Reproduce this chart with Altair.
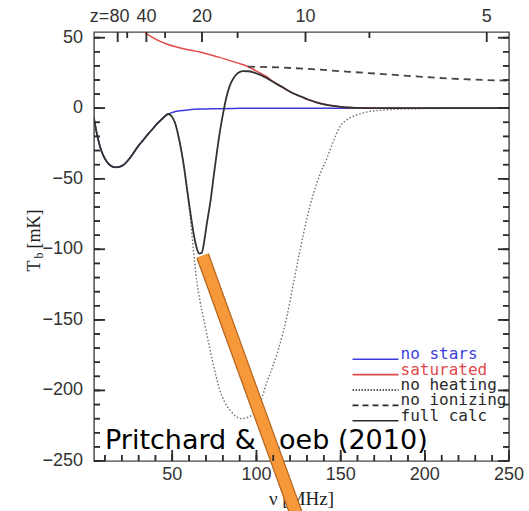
import altair as alt
import pandas as pd

# ---------------- values (nu in MHz, Tb in mK) ----------------
full_nu = [3.5, 5, 7.1, 9, 11.1, 13.5, 16, 18.5, 20.9, 24, 26.8, 30, 32.8, 36, 38.7, 41, 43.7, 46, 47.6,
           49.5, 51.5, 53.5, 55.5, 57, 58.5, 60, 61.5, 63, 64.5, 66, 67.5, 69, 70.5, 72.8, 74.5, 76.4,
           78.5, 80.3, 82, 84, 86.5, 89, 92, 95, 99, 103, 106, 110, 116, 121, 126, 131, 136, 141, 146,
           150, 155, 160, 170, 185, 200, 225, 250]
full_tb = [-7.2, -17, -27.3, -33.5, -37.9, -40.8, -41.9, -41.6, -40.3, -36.5, -32, -26.5, -22.5, -17.8, -14.2, -11, -7.9, -5.3, -4.1,
           -5.5, -10, -19, -31, -42, -55, -68, -80, -91, -99, -103, -102.5, -94, -82, -65, -49, -32,
           -15, -3, 7, 15.5, 21.5, 25, 26.3, 26.2, 25, 23.3, 21.5, 18.5, 14.5, 11, 8.5, 6, 4, 2.6, 1.6,
           1.0, 0.5, 0.25, 0.05, 0, 0, 0, 0]

nostars_nu = full_nu[:19] + [50, 54.6, 60, 66.5, 75, 90, 110, 130, 250]
nostars_tb = full_tb[:19] + [-3.0, -1.8, -1.1, -0.6, -0.3, -0.1, 0, 0, 0]

saturated_nu = [33.2, 36, 40, 46.7, 52, 58, 66.5, 72, 78, 86.2, 91, 95, 100, 106, 110, 116, 121, 126, 131, 136,
                141, 146, 150, 155, 160, 170, 185, 200, 225, 250]
saturated_tb = [54, 51.8, 49, 45.5, 43.5, 41.8, 39.8, 38, 36, 33, 31.2, 29.4, 26.3, 22.3, 18.8, 14.5, 11, 8.5, 6, 4,
                2.6, 1.6, 1.0, 0.5, 0.25, 0.05, 0, 0, 0, 0]

noheat_nu = full_nu[:25] + [60, 61.3, 62.5, 64.5, 66.5, 68.4, 72.4, 76, 78.3, 81, 84.3, 87.5, 91.2, 95, 100, 103, 106,
                            110, 113, 118, 122, 126, 130, 134, 138, 141.7, 145.5, 149.6, 154, 159.5, 166, 175, 185,
                            195, 210, 230, 250]
noheat_tb = full_tb[:25] + [-70, -85, -100, -122, -137, -148, -171, -190, -200, -208, -214, -218, -220, -219, -214,
                            -206, -195, -182, -171, -148, -124, -100, -78, -60, -46, -36, -24, -13, -8, -4.8, -2.6,
                            -1.3, -0.7, -0.4, -0.15, 0, 0]

noion_nu = [95, 100, 115, 135, 155, 175, 195, 215, 235, 250]
noion_tb = [29.4, 29.3, 28.8, 27.5, 25.8, 24.2, 22.5, 21, 20, 19.5]

arrow_nu = [68, 125]
arrow_tb = [-104.5, -292]

legend_names = ["no stars", "saturated", "no heating", "no ionizing", "full calc"]
annotation = "Pritchard & Loeb (2010)"

x_major = [50, 100, 150, 200, 250]
x_minor = list(range(10, 251, 10))
y_major = [-250, -200, -150, -100, -50, 0, 50]
y_minor = list(range(-250, 51, 10))
z_major = [80, 40, 20, 10, 5]
z_minor = [60, 30, 15, 7.5]
NU21 = 1420.4

# ---------------- chart ----------------
W, H = 415, 429
xsc = alt.Scale(domain=[3.5, 250], nice=False, zero=False)
ysc = alt.Scale(domain=[-250, 54], nice=False, zero=False)
TICK_COLOR = "#2b2b2b"
LABEL_FONT = "Liberation Sans"


def frame(nu, tb):
    return pd.DataFrame({"nu": nu, "tb": tb})


def curve(nu, tb, color, width, dash=None, clip=True, cap="round"):
    mk = dict(color=color, strokeWidth=width, interpolate="monotone", clip=clip, strokeCap=cap)
    if dash is not None:
        mk["strokeDash"] = dash
    return alt.Chart(frame(nu, tb)).mark_line(**mk).encode(
        x=alt.X("nu:Q", scale=xsc, axis=None),
        y=alt.Y("tb:Q", scale=ysc, axis=None),
    )


blue = curve(nostars_nu, nostars_tb, "#3d3ddc", 1.5)
red = curve(saturated_nu, saturated_tb, "#e04a4a", 1.5)
dashed = curve(noion_nu, noion_tb, "#454545", 1.8, dash=[7, 5], cap="butt")
dotted = curve(noheat_nu, noheat_tb, "#707070", 1.4, dash=[1.5, 2], cap="butt")
black = curve(full_nu, full_tb, "#333333", 1.8)


# inward tick marks: short rules from the frame edge, doubled by clipped tick marks
def yticks(vals, x0, x1):
    return alt.Chart(pd.DataFrame({"v": vals})).mark_rule(
        color=TICK_COLOR, strokeWidth=1.5, opacity=1, strokeOpacity=1).encode(
        y=alt.Y("v:Q", scale=ysc, axis=None), x=alt.value(x0), x2=alt.value(x1))


def xticks(vals, y0, y1):
    return alt.Chart(pd.DataFrame({"v": vals})).mark_rule(
        color=TICK_COLOR, strokeWidth=1.5, opacity=1, strokeOpacity=1).encode(
        x=alt.X("v:Q", scale=xsc, axis=None), y=alt.value(y0), y2=alt.value(y1))


def ytick_marks(vals, length, xpos):
    return alt.Chart(pd.DataFrame({"v": vals})).mark_tick(
        orient="horizontal", size=2 * length, thickness=1.5, color=TICK_COLOR, opacity=1, clip=True).encode(
        y=alt.Y("v:Q", scale=ysc, axis=None), x=alt.value(xpos))


def xtick_marks(vals, length, ypos):
    return alt.Chart(pd.DataFrame({"v": vals})).mark_tick(
        orient="vertical", size=2 * length, thickness=1.5, color=TICK_COLOR, opacity=1, clip=True).encode(
        x=alt.X("v:Q", scale=xsc, axis=None), y=alt.value(ypos))


top_major_nu = [NU21 / (1 + z) for z in z_major]
top_minor_nu = [NU21 / (1 + z) for z in z_minor]

tick_layers = [
    yticks(y_major, 0, 11), yticks(y_minor, 0, 6),
    yticks(y_major, W - 11, W), yticks(y_minor, W - 6, W),
    xticks(x_major, H - 11, H), xticks(x_minor, H - 6, H),
    xticks(top_major_nu, 0, 10), xticks(top_minor_nu, 0, 6),
    ytick_marks(y_major, 11, 0), ytick_marks(y_minor, 6, 0),
    ytick_marks(y_major, 11, W), ytick_marks(y_minor, 6, W),
    xtick_marks(x_major, 11, H), xtick_marks(x_minor, 6, H),
    xtick_marks(top_major_nu, 10, 0), xtick_marks(top_minor_nu, 6, 0),
]

# tick labels as text through the scales
ylab = alt.Chart(pd.DataFrame({"v": y_major})).mark_text(
    align="right", baseline="middle", font=LABEL_FONT, fontSize=18, color="#333333").encode(
    y=alt.Y("v:Q", scale=ysc, axis=None), x=alt.value(-11), text=alt.Text("v:Q", format="d"))
xlab = alt.Chart(pd.DataFrame({"v": x_major})).mark_text(
    align="center", baseline="top", font=LABEL_FONT, fontSize=18, color="#333333").encode(
    x=alt.X("v:Q", scale=xsc, axis=None), y=alt.value(H + 5), text=alt.Text("v:Q", format="d"))
zlab_first = alt.Chart(pd.DataFrame({"v": top_major_nu[:1], "lab": ["z=%d" % z_major[0]]})).mark_text(
    align="center", baseline="bottom", font=LABEL_FONT, fontSize=18, color="#333333", dx=-8).encode(
    x=alt.X("v:Q", scale=xsc, axis=None), y=alt.value(-6), text="lab:N")
zlab_rest = alt.Chart(pd.DataFrame({"v": top_major_nu[1:], "lab": ["%d" % z for z in z_major[1:]]})).mark_text(
    align="center", baseline="bottom", font=LABEL_FONT, fontSize=18, color="#333333").encode(
    x=alt.X("v:Q", scale=xsc, axis=None), y=alt.value(-6), text="lab:N")

# legend (drawn inside the plot, colours via scales)
legend_df = pd.DataFrame({"name": legend_names})
ly = alt.Y("name:N", scale=alt.Scale(type="point", domain=legend_names, range=[327.3, 388.7], padding=0), axis=None)
lcolor = alt.Color("name:N", scale=alt.Scale(domain=legend_names,
                                             range=["#3d3ddc", "#e04a4a", "#2a2a2a", "#2a2a2a", "#2a2a2a"]),
                   legend=None)
leg_lines = alt.Chart(legend_df).mark_rule(strokeWidth=1.6).encode(
    x=alt.value(258.5), x2=alt.value(304.5), y=ly, color=lcolor,
    strokeDash=alt.StrokeDash("name:N", scale=alt.Scale(domain=legend_names,
                                                        range=[[1, 0], [1, 0], [1.5, 1.5], [6, 4], [1, 0]]),
                              legend=None),
)
leg_text = alt.Chart(legend_df).mark_text(align="left", baseline="alphabetic", font="DejaVu Sans Mono",
                                          fontSize=16).encode(
    x=alt.value(306.5), y=ly, text="name:N", color=lcolor)


def note(text, x, y, **kw):
    return alt.Chart(pd.DataFrame({"t": [text]})).mark_text(**kw).encode(
        text="t:N", x=alt.value(x), y=alt.value(y))


pl_text = note(annotation, 11, 417, align="left", baseline="alphabetic", font="DejaVu Sans",
               fontSize=27, color="#000000")
xtitle = note("ν [MHz]", 207.5, 473, align="center", baseline="alphabetic", font="Liberation Serif",
              fontSize=19, color="#222222")
yt1 = note("T", -54, 234, align="center", baseline="alphabetic", angle=270, font="Liberation Serif",
           fontSize=18, color="#222222")
yt2 = note("b", -51, 223.5, align="center", baseline="alphabetic", angle=270, font="Liberation Serif",
           fontSize=12, color="#222222")
yt3 = note("[mK]", -54, 197, align="center", baseline="alphabetic", angle=270, font="Liberation Serif",
           fontSize=18, color="#222222")

orange_edge = curve(arrow_nu, arrow_tb, "#b5661f", 13.5, clip=False, cap="butt")
orange = curve(arrow_nu, arrow_tb, "#f7993a", 11, clip=False, cap="butt")

chart = alt.layer(
    blue, red, dashed, dotted, black,
    ylab, xlab, zlab_first, zlab_rest,
    leg_lines, leg_text,
    pl_text, xtitle, yt1, yt2, yt3,
    orange_edge, orange,
    *tick_layers,
).resolve_scale(y="independent").properties(
    width=W, height=H,
    padding={"left": 94, "top": 32, "right": 20, "bottom": 50},
    autosize=alt.AutoSizeParams(type="none"),
).configure_view(stroke="#444444", strokeWidth=1.4)

chart.save("out.html", embed_options={"renderer": "svg", "actions": False})
